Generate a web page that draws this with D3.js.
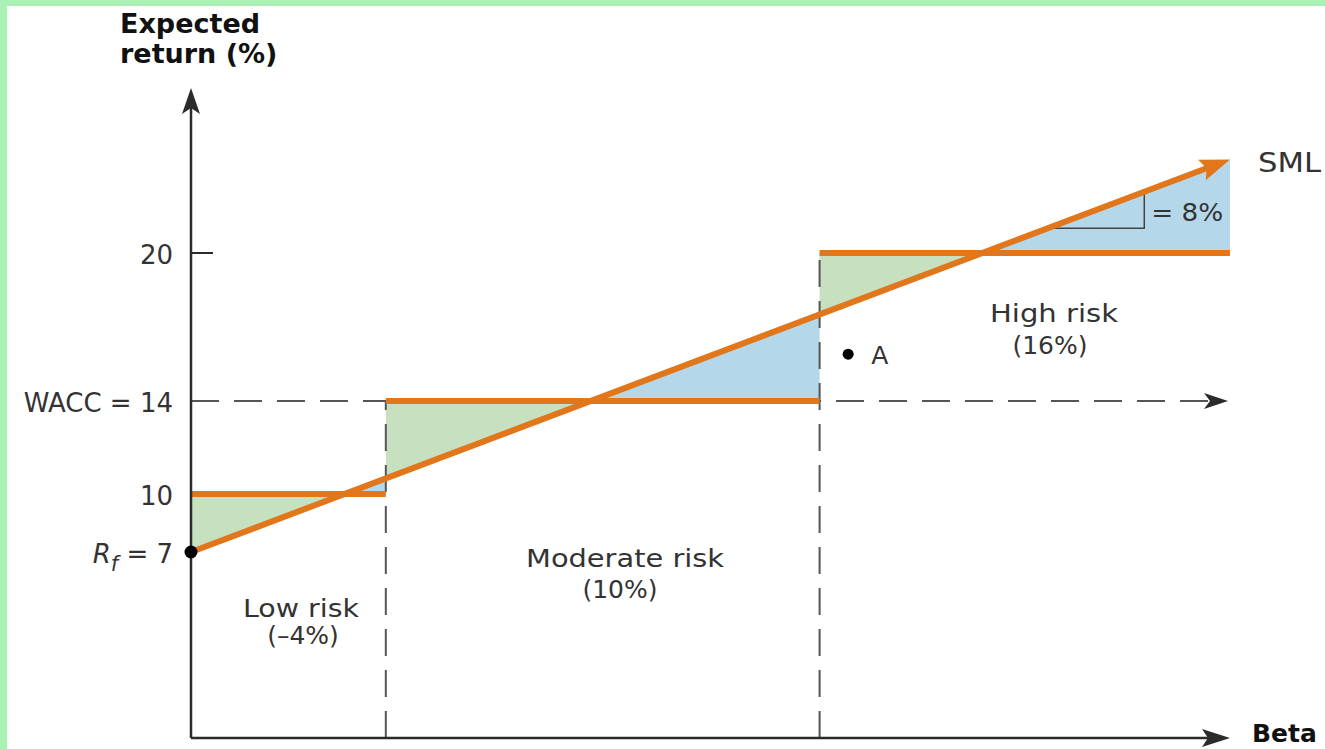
<!DOCTYPE html>
<html>
<head>
<meta charset="utf-8">
<script src="https://cdn.jsdelivr.net/npm/d3@7"></script>
<style>
  html, body { margin: 0; padding: 0; background: #abf0b5; }
  svg { display: block; }
  text { font-family: "DejaVu Sans", sans-serif; fill: #333; }
</style>
</head>
<body>
<svg id="chart" width="1325" height="749"></svg>
<script>
// Risk classes and their hurdle rates (%)
const riskClasses   = ["Low risk", "Moderate risk", "High risk"];
const classBetaFrom = [0, 0.375, 1.21];
const classBetaTo   = [0.375, 1.21, 2.0];
const hurdleRates   = [10, 14, 20];
const classReturns  = [-4, 10, 16];

// Security market line, WACC and risk-free rate
const smlBeta   = [0, 2.0];
const smlReturn = [7, 23.8];
const wacc = 14;
const riskFree = 7;

// Project A
const projectA = { beta: 1.265, ret: 15.9 };

// Slope marker on the SML
const slopeBeta = [1.66, 1.835];
const slopeLabel = "= 8%";

// Y axis tick values and labels
const yTickValues = [20, 14, 10, 7];
const yTickLabels = ["20", "WACC = 14", "10", "Rf = 7"];

const ORANGE = "#e2761b";
const GREEN  = "#c6e0c0";
const BLUE   = "#b5d7ea";
const AXIS   = "#2b2b2b";
const DASH   = "#555";

const svg = d3.select("#chart");

// white canvas inside the green frame
svg.append("rect").attr("x", 7).attr("y", 6).attr("width", 1318).attr("height", 743).attr("fill", "#fff");

const x = d3.scaleLinear().domain([0, 2.0]).range([191, 1230]);
// schematic return axis: piecewise linear
const y = d3.scaleLinear().domain([0, 7, 10, 14, 20, 26.7]).range([738, 552, 494, 401, 253, 88]);

// SML in pixel space
const smlP0 = [x(smlBeta[0]), y(smlReturn[0])];
const smlP1 = [x(smlBeta[1]), y(smlReturn[1])];
const smlAt = px => smlP0[1] + (smlP1[1] - smlP0[1]) * (px - smlP0[0]) / (smlP1[0] - smlP0[0]);
const smlCross = py => smlP0[0] + (smlP1[0] - smlP0[0]) * (py - smlP0[1]) / (smlP1[1] - smlP0[1]);

// fills between hurdle rate and SML: green where the hurdle is above, blue where the SML is above
const gFill = svg.append("g");
hurdleRates.forEach((h, i) => {
  const xa = x(classBetaFrom[i]), xb = x(classBetaTo[i]), hy = y(h);
  const sa = smlAt(xa), sb = smlAt(xb);
  const xc = Math.max(xa, Math.min(xb, smlCross(hy)));
  if (xc > xa) {
    gFill.append("path").attr("fill", GREEN)
      .attr("d", d3.line()([[xa, hy], [xc, hy], [xc, smlAt(xc)], [xa, sa]]) + "Z");
  }
  if (xc < xb) {
    gFill.append("path").attr("fill", BLUE)
      .attr("d", d3.line()([[xc, hy], [xb, hy], [xb, sb], [xc, smlAt(xc)]]) + "Z");
  }
});

// dashed guide lines
const gDash = svg.append("g").attr("stroke", DASH).attr("stroke-width", 2).attr("fill", "none");
gDash.append("line")
  .attr("x1", x(0)).attr("y1", y(wacc)).attr("x2", 1212).attr("y2", y(wacc))
  .attr("stroke-dasharray", "28,15");
[1, 2].forEach(i => {
  gDash.append("line")
    .attr("x1", x(classBetaFrom[i])).attr("y1", y(0))
    .attr("x2", x(classBetaFrom[i])).attr("y2", y(hurdleRates[i]))
    .attr("stroke-dasharray", "27,14");
});

// arrowhead helper (barbed)
function arrowHead(tx, ty, angle, len, halfW, notch) {
  const c = Math.cos(angle), s = Math.sin(angle);
  const pt = (a, b) => [tx - a * c + b * s, ty - a * s - b * c];
  return d3.line()([pt(0, 0), pt(len, halfW), pt(len - notch, 0), pt(len, -halfW)]) + "Z";
}
svg.append("path").attr("fill", AXIS).attr("d", arrowHead(1228, y(wacc), 0, 24, 8, 6));

// slope marker
const tA = x(slopeBeta[0]), tB = x(slopeBeta[1]);
svg.append("path").attr("fill", "none").attr("stroke", "#444").attr("stroke-width", 1.5)
  .attr("d", d3.line()([[tA, smlAt(tA) + 2], [tB, smlAt(tA) + 2], [tB, smlAt(tB)]]));
svg.append("text").attr("x", tB + 7).attr("y", smlAt(tA) - 5).attr("font-size", 25)
  .attr("textLength", 72).attr("lengthAdjust", "spacingAndGlyphs").text(slopeLabel);

// hurdle rate lines
hurdleRates.forEach((h, i) => {
  svg.append("line")
    .attr("x1", x(classBetaFrom[i])).attr("x2", x(classBetaTo[i]))
    .attr("y1", y(h)).attr("y2", y(h))
    .attr("stroke", ORANGE).attr("stroke-width", 6);
});

// SML with arrowhead
const ang = Math.atan2(smlP1[1] - smlP0[1], smlP1[0] - smlP0[0]);
svg.append("line")
  .attr("x1", smlP0[0]).attr("y1", smlP0[1])
  .attr("x2", smlP1[0] - 18 * Math.cos(ang)).attr("y2", smlP1[1] - 18 * Math.sin(ang))
  .attr("stroke", ORANGE).attr("stroke-width", 6);
svg.append("path").attr("fill", ORANGE).attr("d", arrowHead(smlP1[0], smlP1[1], ang, 30, 11, 5));
svg.append("text").attr("x", 1258).attr("y", 172).attr("font-size", 26)
  .attr("textLength", 63).attr("lengthAdjust", "spacingAndGlyphs").text("SML");

// axes
const yAxis = d3.axisLeft(y).tickValues(yTickValues).tickSize(0).tickSizeOuter(0).tickPadding(18)
  .tickFormat((d, i) => yTickLabels[i]);
const gY = svg.append("g").attr("transform", `translate(${x(0)},0)`).call(yAxis);
gY.select(".domain").attr("stroke", AXIS).attr("stroke-width", 2.5).attr("d", `M0,${y(0)}V${y(26.7) + 20}`);
gY.selectAll(".tick text")
  .attr("font-family", "DejaVu Sans, sans-serif").attr("font-size", 26).attr("fill", "#333")
  .attr("dy", "0.4em")
  .each(function (d) {
    if (d === riskFree) {
      const t = d3.select(this).text("");
      t.append("tspan").attr("font-style", "italic").text("R");
      t.append("tspan").attr("font-style", "italic").attr("font-size", 21).attr("dy", 8).text("f");
      t.append("tspan").attr("dy", -8).text(" = " + riskFree);
    }
  });
// short tick at 20
svg.append("line").attr("x1", x(0)).attr("x2", x(0) + 22).attr("y1", y(20)).attr("y2", y(20))
  .attr("stroke", AXIS).attr("stroke-width", 2);
svg.append("path").attr("fill", AXIS).attr("d", arrowHead(x(0), 88, -Math.PI / 2, 26, 9, 6));

const xAxis = d3.axisBottom(x).tickValues([]).tickSizeOuter(0);
const gX = svg.append("g").attr("transform", `translate(0,${y(0)})`).call(xAxis);
gX.select(".domain").attr("stroke", AXIS).attr("stroke-width", 2.5).attr("d", `M${x(0)},0H${1210}`);
svg.append("path").attr("fill", AXIS).attr("d", arrowHead(1230, y(0), 0, 28, 9, 6));

// axis titles
const title = svg.append("text").attr("font-weight", "bold").attr("font-size", 27).style("fill", "#111");
title.append("tspan").attr("x", 120).attr("y", 33).text("Expected");
title.append("tspan").attr("x", 120).attr("y", 63).text("return (%)");
svg.append("text").attr("x", 1252).attr("y", 742).attr("font-weight", "bold").attr("font-size", 25)
  .style("fill", "#111").text("Beta");

// points
svg.append("circle").attr("cx", x(0)).attr("cy", y(riskFree)).attr("r", 6.5).attr("fill", "#000");
svg.append("circle").attr("cx", x(projectA.beta)).attr("cy", y(projectA.ret)).attr("r", 5.5).attr("fill", "#000");
svg.append("text").attr("x", x(projectA.beta) + 23).attr("y", y(projectA.ret) + 10).attr("font-size", 25).text("A");

// risk class labels
const fmtPct = v => "(" + (v < 0 ? "\u2013" + Math.abs(v) : v) + "%)";
const classLabelPos = [
  { cx: 301, y1: 617, cx2: 303, y2: 644, w: 116 },
  { cx: 625, y1: 567, cx2: 620, y2: 598, w: 198 },
  { cx: 1054, y1: 322, cx2: 1050, y2: 354, w: 128 }
];
riskClasses.forEach((name, i) => {
  const p = classLabelPos[i];
  svg.append("text").attr("x", p.cx).attr("y", p.y1).attr("text-anchor", "middle").attr("font-size", 25)
    .attr("textLength", p.w).attr("lengthAdjust", "spacingAndGlyphs").text(name);
  svg.append("text").attr("x", p.cx2).attr("y", p.y2).attr("text-anchor", "middle").attr("font-size", 25)
    .text(fmtPct(classReturns[i]));
});
</script>
</body>
</html>
